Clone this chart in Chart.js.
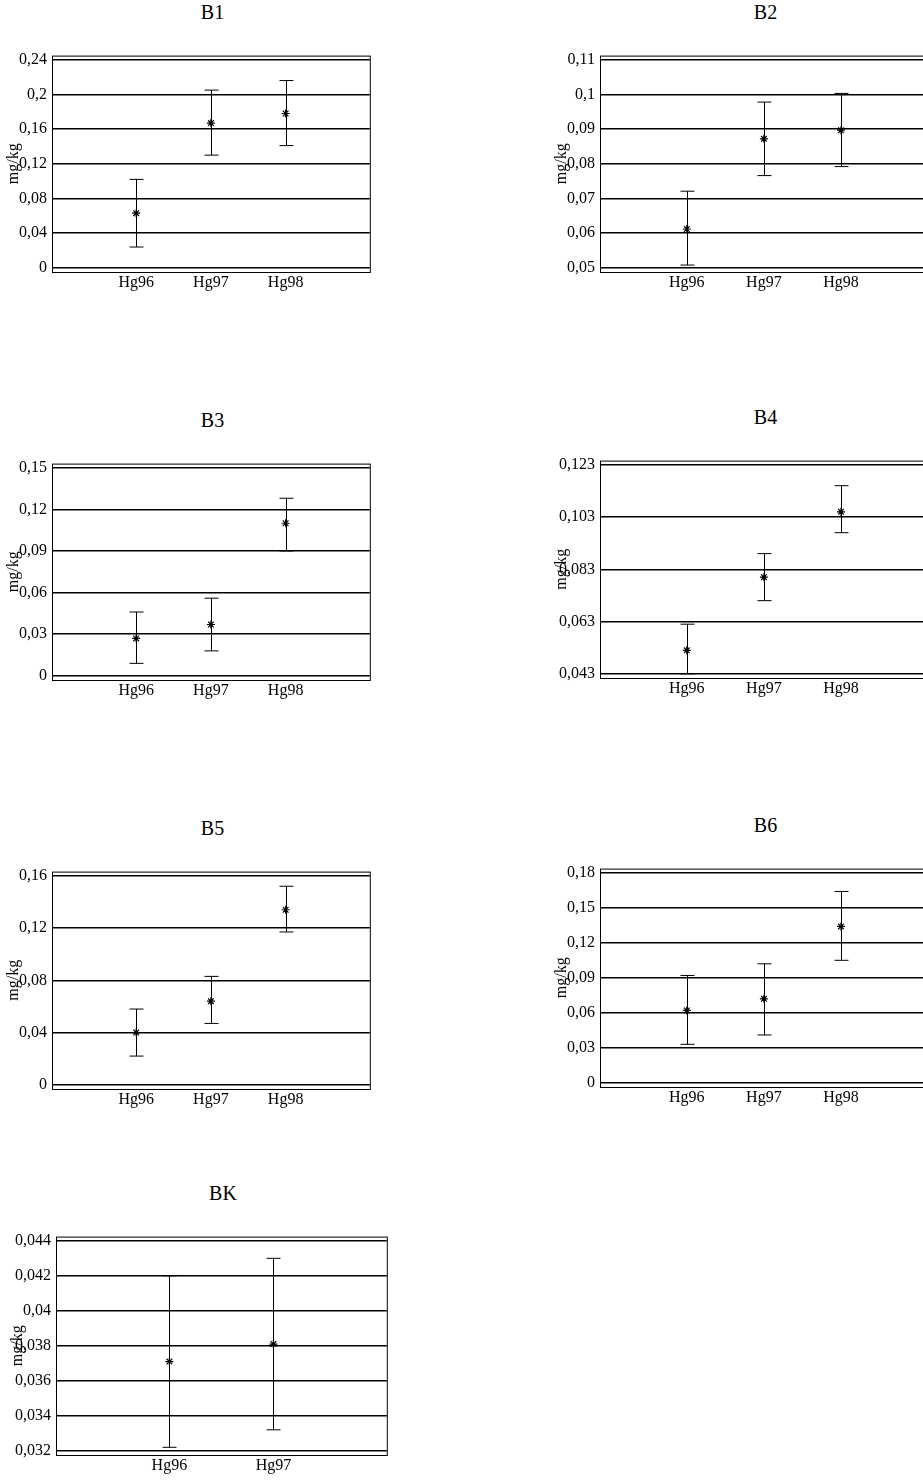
<!DOCTYPE html>
<html>
<head>
<meta charset="utf-8">
<script src="https://cdn.jsdelivr.net/npm/chart.js@4.4.0/dist/chart.umd.min.js"></script>
<style>
  html, body { margin:0; padding:0; background:#fff; width:923px; height:1484px; overflow:hidden; position:relative; }
  .box { position:absolute; }
  .title { position:absolute; font-family:"Liberation Serif", "DejaVu Serif", serif; font-size:20px; color:#000; transform:translate(-50%,-50%); }
</style>
</head>
<body>
<script>
// ── Data ──
const categories3 = ["Hg96", "Hg97", "Hg98"];
const categories2 = ["Hg96", "Hg97"];

const b1Mid = [0.063, 0.167, 0.178];
const b1Low = [0.024, 0.130, 0.141];
const b1High = [0.102, 0.205, 0.216];
const b1Ticks = [0, 0.04, 0.08, 0.12, 0.16, 0.2, 0.24];

const b2Mid = [0.0612, 0.0872, 0.0897];
const b2Low = [0.0508, 0.0766, 0.0792];
const b2High = [0.0721, 0.0978, 0.1003];
const b2Ticks = [0.05, 0.06, 0.07, 0.08, 0.09, 0.1, 0.11];

const b3Mid = [0.027, 0.037, 0.110];
const b3Low = [0.009, 0.018, 0.090];
const b3High = [0.046, 0.056, 0.128];
const b3Ticks = [0, 0.03, 0.06, 0.09, 0.12, 0.15];

const b4Mid = [0.052, 0.080, 0.105];
const b4Low = [0.043, 0.071, 0.097];
const b4High = [0.062, 0.089, 0.115];
const b4Ticks = [0.043, 0.063, 0.083, 0.103, 0.123];

const b5Mid = [0.040, 0.064, 0.134];
const b5Low = [0.022, 0.047, 0.117];
const b5High = [0.058, 0.083, 0.152];
const b5Ticks = [0, 0.04, 0.08, 0.12, 0.16];

const b6Mid = [0.062, 0.072, 0.134];
const b6Low = [0.033, 0.041, 0.105];
const b6High = [0.092, 0.102, 0.164];
const b6Ticks = [0, 0.03, 0.06, 0.09, 0.12, 0.15, 0.18];

const bkMid = [0.0371, 0.0381];
const bkLow = [0.0322, 0.0332];
const bkHigh = [0.0420, 0.0430];
const bkTicks = [0.032, 0.034, 0.036, 0.038, 0.04, 0.042, 0.044];

const FONT = "'Liberation Serif', 'DejaVu Serif', serif";

function fmt(v) {
  return String(+v.toFixed(4)).replace(".", ",");
}

const errorBars = {
  id: "errorBars",
  afterDatasetsDraw(chart) {
    const { ctx, scales: { x, y } } = chart;
    const o = chart.options.plugins.errorBars;
    ctx.save();
    ctx.strokeStyle = "#000";
    ctx.lineWidth = 1;
    o.low.forEach((lo, i) => {
      const px = Math.round(x.getPixelForValue(i + 1)) + 0.5;
      const y1 = y.getPixelForValue(lo), y2 = y.getPixelForValue(o.high[i]);
      ctx.beginPath();
      ctx.moveTo(px, y1); ctx.lineTo(px, y2);
      ctx.moveTo(px - 7, y1); ctx.lineTo(px + 7, y1);
      ctx.moveTo(px - 7, y2); ctx.lineTo(px + 7, y2);
      ctx.stroke();
    });
    // plot frame
    const a = chart.chartArea;
    ctx.strokeRect(a.left + 0.5, a.top + 0.5, a.right - a.left, a.bottom - a.top);
    // y title
    ctx.fillStyle = "#000";
    ctx.font = "16px " + FONT;
    ctx.textAlign = "center";
    ctx.textBaseline = "middle";
    ctx.translate(a.left - 38, (a.top + a.bottom) / 2);
    ctx.rotate(-Math.PI / 2);
    ctx.fillText("mg/kg", 0, 0);
    ctx.restore();
  }
};

function makeChart(opts) {
  const { id, title, left, top, plotW, plotH, cats, mid, low, high, ticks } = opts;
  const labelW = 54;
  const shift = 16;
  const div = document.createElement("div");
  div.className = "box";
  div.style.left = (left - labelW) + "px";
  div.style.top = (top - shift) + "px";
  div.style.width = (labelW + plotW + 2) + "px";
  div.style.height = (plotH + 22 + shift) + "px";
  const cv = document.createElement("canvas");
  cv.id = id;
  div.appendChild(cv);
  document.body.appendChild(div);

  const t = document.createElement("div");
  t.className = "title";
  t.textContent = title;
  t.style.left = (left + plotW / 2) + "px";
  t.style.top = (top - 45) + "px";
  document.body.appendChild(t);

  const lo = ticks[0], hi = ticks[ticks.length - 1];
  const pad = (hi - lo) * 0.02;
  const n = cats.length;
  const xPad = n === 3 ? 1.126 : 1.09;

  new Chart(cv, {
    type: "scatter",
    data: {
      datasets: [{
        data: mid.map((v, i) => ({ x: i + 1, y: v })),
        pointStyle: "star",
        radius: 4,
        borderColor: "#000",
        borderWidth: 1.2,
        backgroundColor: "#000"
      }]
    },
    options: {
      responsive: true,
      maintainAspectRatio: false,
      animation: false,
      layout: { padding: { top: 0, right: 1, left: 0, bottom: 0 } },
      plugins: {
        legend: { display: false },
        tooltip: { enabled: false },
        errorBars: { low, high }
      },
      scales: {
        x: {
          type: "linear",
          min: 1 - xPad,
          max: n + xPad,
          afterBuildTicks: s => { s.ticks = cats.map((_, i) => ({ value: i + 1 })); },
          afterFit: s => { s.height = 22; },
          grid: { display: false, drawTicks: false },
          border: { display: false },
          ticks: {
            color: "#000",
            padding: 1,
            font: { family: FONT, size: 16 },
            callback: v => cats[Math.round(v) - 1] || ""
          }
        },
        y: {
          min: lo - pad,
          max: hi + pad,
          afterBuildTicks: s => { s.ticks = ticks.map(v => ({ value: v })); },
          afterFit: s => { s.width = labelW; },
          grid: { color: "#000", lineWidth: 1.5, drawTicks: false },
          border: { display: false },
          ticks: {
            color: "#000",
            padding: 5,
            font: { family: FONT, size: 16 },
            callback: v => fmt(v)
          }
        }
      }
    },
    plugins: [errorBars]
  });
}

makeChart({ id: "b1", title: "B1", left: 52, top: 57, plotW: 321, plotH: 215, cats: categories3, mid: b1Mid, low: b1Low, high: b1High, ticks: b1Ticks });
makeChart({ id: "b2", title: "B2", left: 600, top: 57, plotW: 331, plotH: 215, cats: categories3, mid: b2Mid, low: b2Low, high: b2High, ticks: b2Ticks });
makeChart({ id: "b3", title: "B3", left: 52, top: 465, plotW: 321, plotH: 215, cats: categories3, mid: b3Mid, low: b3Low, high: b3High, ticks: b3Ticks });
makeChart({ id: "b4", title: "B4", left: 600, top: 462, plotW: 331, plotH: 216, cats: categories3, mid: b4Mid, low: b4Low, high: b4High, ticks: b4Ticks });
makeChart({ id: "b5", title: "B5", left: 52, top: 873, plotW: 321, plotH: 216, cats: categories3, mid: b5Mid, low: b5Low, high: b5High, ticks: b5Ticks });
makeChart({ id: "b6", title: "B6", left: 600, top: 870, plotW: 331, plotH: 217, cats: categories3, mid: b6Mid, low: b6Low, high: b6High, ticks: b6Ticks });
makeChart({ id: "bk", title: "BK", left: 56, top: 1238, plotW: 334, plotH: 217, cats: categories2, mid: bkMid, low: bkLow, high: bkHigh, ticks: bkTicks });
</script>
</body>
</html>
